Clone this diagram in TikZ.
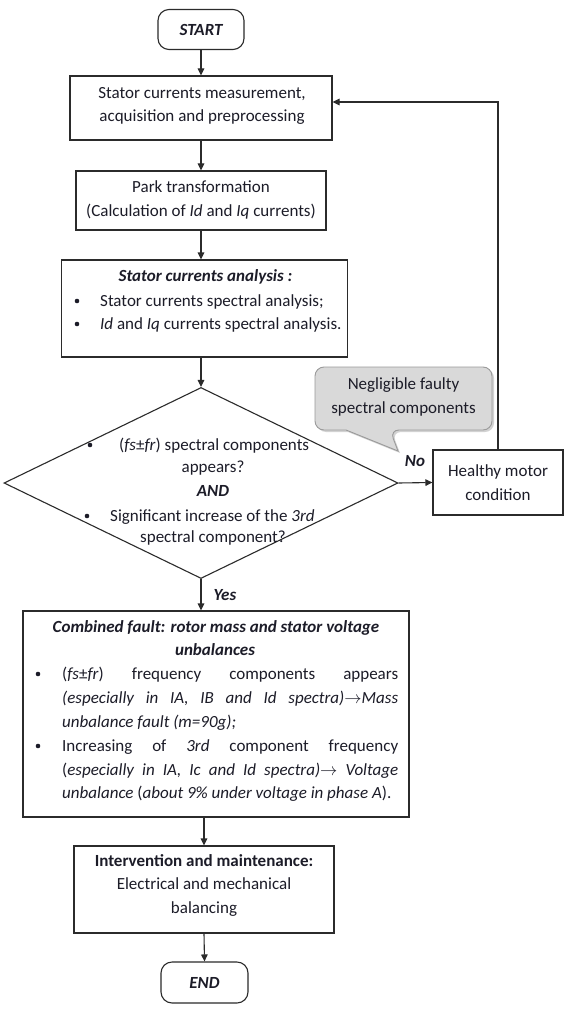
\documentclass[tikz,border=0pt]{standalone}
\usepackage{fontspec}
\setmainfont{Carlito}
\usetikzlibrary{arrows.meta,shapes.geometric,shadows,calc}
\definecolor{linec}{HTML}{2B2B2B}
\definecolor{txtc}{HTML}{1C1C28}
\definecolor{callfill}{HTML}{D9D9D9}
\definecolor{callline}{HTML}{9A9A9A}
\begin{document}
\begin{tikzpicture}[x=1pt,y=-1pt,
  font=\fontsize{17}{23.5}\selectfont,
  boxx/.style={draw=linec, line width=1.1pt, fill=white, inner sep=0pt},
  term/.style={boxx, rounded corners=11pt},
  arr/.style={draw=linec, line width=1.1pt, -{Triangle[length=7pt,width=6.5pt]}},
  lbl/.style={inner sep=0pt, text=txtc, align=center},
  tb/.style={inner sep=0pt, text=txtc, anchor=base},
  tw/.style={inner sep=0pt, text=txtc, anchor=base west},
  dot/.style={circle, fill=txtc, inner sep=0pt, minimum size=4.6pt},
  bi/.style={font=\fontsize{17}{23.5}\selectfont\bfseries\itshape}]
\fill[white] (0,0) rectangle (574,1024);
\useasboundingbox (0,0) rectangle (574,1024);

% START
\node[term, minimum width=86pt, minimum height=40pt, lbl] (start) at (201,29.5) {\bfseries\itshape START};

% Box 1
\node[boxx, minimum width=262pt, minimum height=64pt] (b1) at (201,108) {};
\node[lbl] (b1t) at (202,106) {Stator currents measurement,\\acquisition and preprocessing};

% Box 2
\node[boxx, minimum width=250pt, minimum height=59pt] (b2) at (201,200.5) {};
\node[lbl] (b2t) at (201,200) {Park transformation\\(Calculation of \textit{Id} and \textit{Iq} currents)};

% Box 3
\node[boxx, minimum width=286pt, minimum height=97pt] (b3) at (204.5,308.5) {};
\node[tb, bi] (b3t) at (205.5,281) {Stator currents analysis :};
\node[dot] (b3d1) at (77,301) {};
\node[tw] (b3l1) at (100,306) {Stator currents spectral analysis;};
\node[dot] (b3d2) at (77,324) {};
\node[tw] (b3l2) at (100,329) {\textit{Id} and \textit{Iq} currents spectral analysis.};

% Decision diamond
\node[diamond, draw=linec, line width=1.1pt, fill=white, inner sep=0pt,
      minimum width=394pt, minimum height=191pt] (dec) at (201,483) {};
\node[dot] (dd1) at (90,445) {};
\node[tw] (dl1) at (119,450) {(\textit{fs}±\textit{fr}) spectral components};
\node[tb] (dl2) at (213,472) {appears?};
\node[tb, bi] (dl3) at (213,496) {AND};
\node[dot] (dd2) at (87,516) {};
\node[tw] (dl4) at (110,521) {Significant increase of the \textit{3rd}};
\node[tb] (dl5) at (213,542) {spectral component?};

% Healthy motor condition
\node[boxx, minimum width=130pt, minimum height=65pt] (hm) at (498,482.5) {};
\node[lbl] (hmt) at (498,482.5) {Healthy motor\\condition};

% Callout
\path[draw=callline, line width=0.9pt, fill=callfill,
      drop shadow={opacity=0.35, shadow xshift=2pt, shadow yshift=-2pt}]
  (403,367) [rounded corners=9pt] -- (492,367) -- (492,430) -- (390,430)
  [sharp corners] -- (398,451) -- (346,430)
  [rounded corners=9pt] -- (315,430) -- (315,367) -- cycle;
\node[lbl] (callt) at (403.5,397) {Negligible faulty\\spectral components};

% Labels
\node[tb, bi] (nolbl) at (415,466) {No};
\node[tb, bi] (yeslbl) at (225,600) {Yes};

% Box 4
\node[boxx, minimum width=386pt, minimum height=206pt] (b4) at (216,714) {};
\node[tb, bi] (b4t1) at (216,632) {Combined fault: rotor mass and stator voltage};
\node[tb, bi] (b4t2) at (215,655) {unbalances};
\node[dot] (b4d1) at (38,674) {};
\node[tw] (b4l1) at (62,679) {\hbox to 336pt{(\textit{fs}±\textit{fr}) frequency components appears}};
\node[tw] (b4l2) at (62,703) {\hbox to 336pt{\itshape (especially in IA, IB and Id spectra)$\rightarrow$Mass}};
\node[tw] (b4l3) at (62,727) {\itshape unbalance fault (m=90g);};
\node[dot] (b4d2) at (38,746) {};
\node[tw] (b4l4) at (62,751) {\hbox to 336pt{Increasing of \textit{3rd} component frequency}};
\node[tw] (b4l5) at (62,775) {\hbox to 336pt{(\textit{especially in IA, Ic and Id spectra)}$\rightarrow$ \textit{Voltage}}};
\node[tw] (b4l6) at (62,798) {\textit{unbalance} (\textit{about 9\% under voltage in phase A}).};

% Box 5
\node[boxx, minimum width=260pt, minimum height=87pt] (b5) at (204,889.5) {};
\node[lbl] (b5t) at (204,885) {\textbf{Intervention and maintenance:}\\Electrical and mechanical\\balancing};

% END
\node[term, minimum width=87pt, minimum height=41pt, lbl] (end) at (204.5,982.5) {\bfseries\itshape END};

% Connectors
\draw[arr] (start.south) -- (b1.north);
\draw[arr] (b1.south) -- (b2.north);
\draw[arr] (b2.south) -- (b2.south |- b3.north);
\draw[arr] (dec.north |- b3.south) -- (dec.north);
\draw[arr] (dec.east) -- (hm.west);
\coordinate (fb) at ($(b1.east)+(0,-6)$);
\draw[arr] (hm.north) |- (fb);
\draw[arr] (dec.south) -- (dec.south |- b4.north);
\draw[arr] (b5.north |- b4.south) -- (b5.north);
\draw[arr] (b5.south) -- (end.north);
\end{tikzpicture}
\end{document}
